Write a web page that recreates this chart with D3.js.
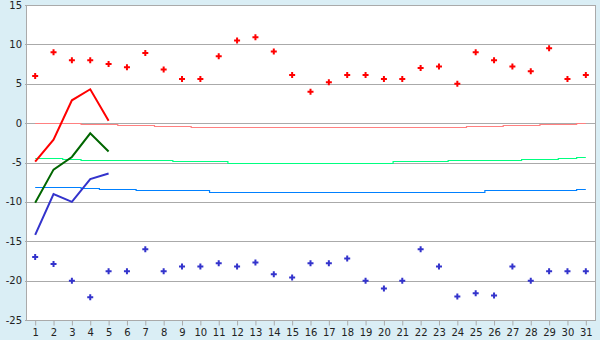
<!DOCTYPE html>
<html>
<head>
<meta charset="utf-8">
<script src="https://cdnjs.cloudflare.com/ajax/libs/d3/7.8.5/d3.min.js"></script>
<style>
  body { margin: 0; background: #daeef5; }
  text { font-family: "DejaVu Sans", Verdana, sans-serif; font-size: 10px; fill: #222; }
</style>
</head>
<body>
<script>
// days of the month
var days = d3.range(1, 32);
var yTicks = [-25, -20, -15, -10, -5, 0, 5, 10, 15];

// record highs / lows per day (markers)
var recordHigh = [6.0, 9.0, 8.0, 8.0, 7.5, 7.1, 8.9, 6.8, 5.6, 5.6, 8.5, 10.5, 10.9, 9.1, 6.1, 4.0,
                  5.2, 6.1, 6.1, 5.6, 5.6, 7.0, 7.2, 5.0, 9.0, 8.0, 7.2, 6.6, 9.5, 5.6, 6.1];
var recordLow = [-17.0, -17.9, -20.0, -22.1, -18.8, -18.8, -16.0, -18.8, -18.2, -18.2, -17.8, -18.2,
                 -17.7, -19.2, -19.6, -17.8, -17.8, -17.2, -20.0, -21.0, -20.0, -16.0, -18.2, -22.0,
                 -21.6, -21.9, -18.2, -20.0, -18.8, -18.8, -18.8];

// normals (step lines)
var normalHigh = [0.0, 0.0, 0.0, -0.1, -0.1, -0.3, -0.3, -0.4, -0.4, -0.5, -0.5, -0.5, -0.5, -0.5, -0.5,
                  -0.5, -0.5, -0.5, -0.5, -0.5, -0.5, -0.5, -0.5, -0.5, -0.4, -0.4, -0.3, -0.3, -0.1, -0.1, 0.0];
var normalMean = [-4.4, -4.4, -4.5, -4.7, -4.7, -4.7, -4.7, -4.7, -4.8, -4.8, -4.8, -5.0, -5.0, -5.0, -5.0,
                  -5.0, -5.0, -5.0, -5.0, -5.0, -4.8, -4.8, -4.8, -4.7, -4.7, -4.7, -4.7, -4.6, -4.6, -4.45, -4.3];
var normalLow = [-8.1, -8.1, -8.1, -8.2, -8.4, -8.4, -8.5, -8.5, -8.5, -8.5, -8.7, -8.7, -8.7, -8.7, -8.7,
                 -8.8, -8.8, -8.8, -8.8, -8.8, -8.8, -8.7, -8.7, -8.7, -8.7, -8.5, -8.5, -8.5, -8.5, -8.5, -8.4];

// observed so far (days 1-5)
var obsHigh = [-4.9, -2.1, 2.9, 4.3, 0.3];
var obsMean = [-10.1, -5.9, -4.3, -1.3, -3.6];
var obsLow = [-14.2, -9.0, -10.0, -7.1, -6.4];

var width = 600, height = 340;
var mLeft = 26, mRight = 595, mTop = 5, mBottom = 320;

var svg = d3.select("body").append("svg")
  .attr("width", width)
  .attr("height", height)
  .style("display", "block");

var x = d3.scalePoint().domain(days).range([mLeft, mRight]).padding(0.5);
var y = d3.scaleLinear().domain([-25, 15]).range([mBottom, mTop]);

// plot area
svg.append("rect")
  .attr("x", mLeft).attr("y", mTop)
  .attr("width", mRight - mLeft).attr("height", mBottom - mTop)
  .attr("fill", "white");

// gridlines
svg.append("g").selectAll("line")
  .data(yTicks)
  .enter().append("line")
  .attr("x1", mLeft - 1).attr("x2", mRight)
  .attr("y1", function(d) { return Math.round(y(d)) + 0.5; })
  .attr("y2", function(d) { return Math.round(y(d)) + 0.5; })
  .attr("stroke", "#aaaaaa");

// side borders
svg.append("line").attr("x1", mLeft + 0.5).attr("x2", mLeft + 0.5)
  .attr("y1", mTop).attr("y2", mBottom).attr("stroke", "#aaaaaa");
svg.append("line").attr("x1", mRight + 0.5).attr("x2", mRight + 0.5)
  .attr("y1", mTop).attr("y2", mBottom + 1).attr("stroke", "#aaaaaa");

// y labels
svg.append("g").selectAll("text")
  .data(yTicks)
  .enter().append("text")
  .attr("x", mLeft - 4)
  .attr("y", function(d) { return y(d); })
  .attr("dy", "0.35em")
  .attr("text-anchor", "end")
  .text(function(d) { return d; });

// x axis
var xAxis = svg.append("g")
  .attr("transform", "translate(0," + (Math.round(y(-25)) + 0.5) + ")")
  .call(d3.axisBottom(x).tickSize(5).tickPadding(3));
xAxis.select(".domain").remove();
xAxis.selectAll(".tick line").attr("stroke", "#aaaaaa");
xAxis.selectAll(".tick text").attr("fill", "#222").attr("font-size", "10px")
  .attr("font-family", "DejaVu Sans, Verdana, sans-serif");

// normal step lines
var step = d3.line()
  .x(function(d, i) { return x(days[i]); })
  .y(function(d) { return Math.round(y(d)) + 0.5; })
  .curve(d3.curveStep);

[[normalHigh, "#ff8080"], [normalMean, "#00ff80"], [normalLow, "#0080ff"]].forEach(function(s) {
  svg.append("path")
    .datum(s[0])
    .attr("d", step)
    .attr("fill", "none")
    .attr("stroke", s[1])
    .attr("stroke-width", 1.2);
});

// observed lines
var line = d3.line()
  .x(function(d, i) { return x(days[i]); })
  .y(function(d) { return y(d); });

[[obsHigh, "#ff0000"], [obsMean, "#006600"], [obsLow, "#3333cc"]].forEach(function(s) {
  svg.append("path")
    .datum(s[0])
    .attr("d", line)
    .attr("fill", "none")
    .attr("stroke", s[1])
    .attr("stroke-width", 2);
});

// record markers
var marker = d3.symbol().type(d3.symbolCross).size(20);

svg.append("g").selectAll("path")
  .data(recordHigh)
  .enter().append("path")
  .attr("d", marker)
  .attr("transform", function(d, i) { return "translate(" + x(days[i]) + "," + y(d) + ")"; })
  .attr("fill", "#ff0000");

svg.append("g").selectAll("path")
  .data(recordLow)
  .enter().append("path")
  .attr("d", marker)
  .attr("transform", function(d, i) { return "translate(" + x(days[i]) + "," + y(d) + ")"; })
  .attr("fill", "#3333cc");
</script>
</body>
</html>
